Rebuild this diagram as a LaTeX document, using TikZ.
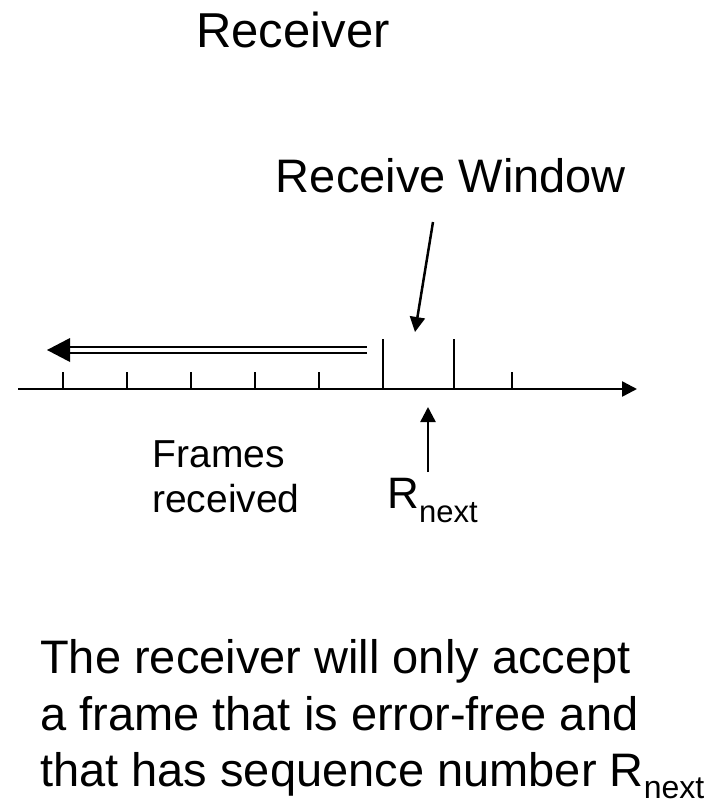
\documentclass[tikz,border=0pt]{standalone}
\usepackage{fontspec}
\setmainfont{Liberation Sans}
\usetikzlibrary{arrows.meta}

\begin{document}
\begin{tikzpicture}[x=1pt,y=-1pt,>={Triangle[length=15pt,width=15pt]},line width=2.5pt,
	every node/.style={inner sep=0pt,anchor=base},
	bigtext/.style={font=\fontsize{49}{58}\selectfont},
	midtext/.style={font=\fontsize{39}{45}\selectfont},
	notetext/.style={font=\fontsize{47}{57}\selectfont,anchor=base west}]

\useasboundingbox (0,0) rectangle (728,804);

\node[bigtext] (title) at (293,47) {Receiver};
	\node[font=\fontsize{47}{56}\selectfont] (winlabel) at (451,192) {Receive Window};

	\node[midtext] (frames1) at (219,467) {Frames};
	\node[midtext] (frames2) at (226,512) {received};
	\node[font=\fontsize{44}{50}\selectfont,anchor=base west] (rnext) at (386,508) {R\raisebox{-14pt}{\fontsize{31}{31}\selectfont next}};

	\coordinate (axstart) at (18,389);
	\coordinate (axend)   at (637,389);
	\coordinate (wtail)   at (433,222);
	\coordinate (wtip)    at (415,332);
	\coordinate (rfoot)   at (428,472);
	\coordinate (rtip)    at (428,407);
	\coordinate (dstart)  at (367,350);
	\coordinate (dhead)   at (69,350);
	\coordinate (dtip)    at (47,350);

	\draw[->] (axstart) -- (axend);
	\foreach \x in {63,127,191,255,319,512}
		\draw (\x,372) -- (\x,389);
	\foreach \x in {383,454}
		\draw (\x,339) -- (\x,389);

	\draw[double,double distance=3.5pt] (dstart) -- (dhead);
	\fill (dtip) -- ++(23,-12) -- ++(0,24) -- cycle;

	\path[->] (wtail) edge (wtip)
	          (rfoot) edge (rtip);

	\node[notetext] (note1) at (39,673) {The receiver will only accept};
	\node[notetext] (note2) at (39,730) {a frame that is error-free and};
	\node[notetext] (note3) at (39,786) {that has sequence number R\raisebox{-12pt}{\fontsize{32}{32}\selectfont next}};

\end{tikzpicture}
\end{document}
